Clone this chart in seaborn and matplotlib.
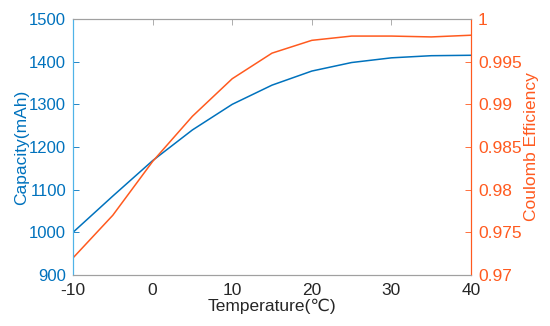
import numpy as np
import pandas as pd
import matplotlib
matplotlib.use('Agg')
import matplotlib.pyplot as plt
import seaborn as sns

temperature = [-10, -5, 0, 5, 10, 15, 20, 25, 30, 35, 40]
capacity = [1000, 1085, 1168, 1240, 1300, 1345, 1378, 1398, 1409, 1414, 1415]
coulomb_eff = [0.9720, 0.9770, 0.9833, 0.9886, 0.9930, 0.9960, 0.9975, 0.9980, 0.9980, 0.9979, 0.9981]

blue = '#0072BD'
orange = '#FF5A1F'
grey = '#A0A0A0'

sns.set_style('white')
plt.rcParams['font.family'] = ['Liberation Sans', 'DejaVu Sans']
plt.rcParams['axes.unicode_minus'] = False
plt.rcParams['xtick.direction'] = 'in'
plt.rcParams['ytick.direction'] = 'in'

df = pd.DataFrame({'temp': temperature, 'cap': capacity, 'ce': coulomb_eff})

fig = plt.figure(figsize=(5.5, 3.26), dpi=100)
ax = fig.add_axes([0.1327, 0.1564, 0.7237, 0.7853])
sns.lineplot(data=df, x='temp', y='cap', ax=ax, color=blue, linewidth=1.1)
ax2 = ax.twinx()
sns.lineplot(data=df, x='temp', y='ce', ax=ax2, color=orange, linewidth=1.1)

ax.set_xlim(-10, 40)
ax.set_xticks([-10, 0, 10, 20, 30, 40])
ax.set_ylim(900, 1500)
ax.set_yticks(np.arange(900, 1501, 100))
ax2.set_ylim(0.97, 1.0)
ax2.set_yticks([0.97, 0.975, 0.98, 0.985, 0.99, 0.995, 1.0])
ax2.set_yticklabels(['0.97', '0.975', '0.98', '0.985', '0.99', '0.995', '1'])

ax.set_xlabel('Temperature(℃)', fontsize=12.5, color='#262626', labelpad=0)
ax.set_ylabel('Capacity(mAh)', fontsize=12.5, color=blue, labelpad=0)
ax2.set_ylabel('Coulomb Efficiency', fontsize=12.5, color=orange, labelpad=2)

ax.tick_params(axis='x', colors='#262626', labelsize=12.5, top=True, length=4, width=0.6, pad=6)
ax.tick_params(axis='y', colors=blue, labelsize=12, length=4, width=0.6, pad=5)
ax2.tick_params(axis='y', colors=orange, labelsize=12.5, length=4, width=0.6, pad=5)
ax.tick_params(axis='x', color=grey)

for a in (ax, ax2):
    a.spines['top'].set_color(grey)
    a.spines['bottom'].set_color(grey)
    a.spines['left'].set_color('#4FB3E8')
    a.spines['right'].set_color(orange)
    for s in a.spines.values():
        s.set_linewidth(0.8)

fig.savefig('out.png', dpi=100)
